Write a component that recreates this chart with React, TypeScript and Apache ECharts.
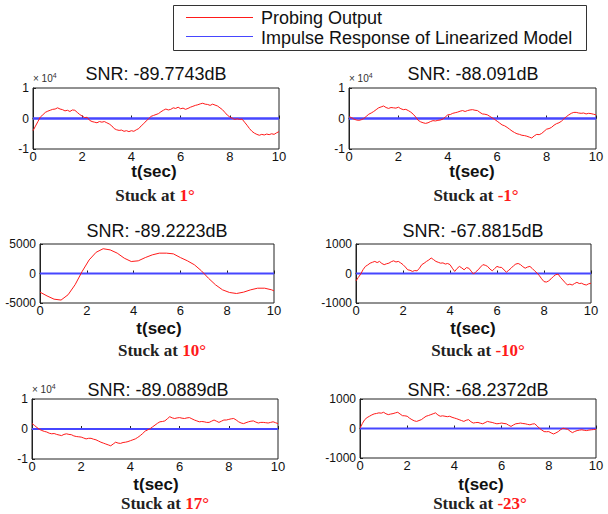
import React, { useEffect, useRef } from "react";
import * as echarts from "echarts";

// time grids (seconds)
const t01 = [
  0, 0.1, 0.2, 0.3, 0.4, 0.5, 0.6, 0.7, 0.8, 0.9,
  1.0, 1.1, 1.2, 1.3, 1.4, 1.5, 1.6, 1.7, 1.8, 1.9,
  2.0, 2.1, 2.2, 2.3, 2.4, 2.5, 2.6, 2.7, 2.8, 2.9,
  3.0, 3.1, 3.2, 3.3, 3.4, 3.5, 3.6, 3.7, 3.8, 3.9,
  4.0, 4.1, 4.2, 4.3, 4.4, 4.5, 4.6, 4.7, 4.8, 4.9,
  5.0, 5.1, 5.2, 5.3, 5.4, 5.5, 5.6, 5.7, 5.8, 5.9,
  6.0, 6.1, 6.2, 6.3, 6.4, 6.5, 6.6, 6.7, 6.8, 6.9,
  7.0, 7.1, 7.2, 7.3, 7.4, 7.5, 7.6, 7.7, 7.8, 7.9,
  8.0, 8.1, 8.2, 8.3, 8.4, 8.5, 8.6, 8.7, 8.8, 8.9,
  9.0, 9.1, 9.2, 9.3, 9.4, 9.5, 9.6, 9.7, 9.8, 9.9,
  10.0,
];
const t03 = [0, 0.3, 0.6, 0.9, 1.2, 1.5, 1.8, 2.1, 2.4, 2.7, 3.0, 3.3, 3.6, 3.9, 4.2, 4.5, 4.8, 5.1, 5.4, 5.7, 6.0, 6.3, 6.6, 6.9, 7.2, 7.5, 7.8, 8.1, 8.4, 8.7, 9.0, 9.3, 9.6, 9.9, 10.0];

// Probing outputs (plots 1, 2, 5 in units of 10^4)
const probe1 = [
  -0.40, -0.25, -0.10, 0.05, 0.12, 0.20, 0.24, 0.27, 0.30, 0.31,
  0.35, 0.31, 0.29, 0.25, 0.27, 0.23, 0.28, 0.27, 0.20, 0.13,
  0.08, 0.03, 0.04, -0.06, -0.10, -0.12, -0.14, -0.10, -0.12, -0.10,
  -0.14, -0.18, -0.24, -0.33, -0.37, -0.39, -0.38, -0.42, -0.40, -0.43,
  -0.40, -0.42, -0.37, -0.33, -0.24, -0.17, -0.08, -0.01, 0.07, 0.10,
  0.13, 0.16, 0.22, 0.27, 0.31, 0.28, 0.30, 0.35, 0.33, 0.37,
  0.32, 0.34, 0.30, 0.33, 0.37, 0.40, 0.43, 0.45, 0.48, 0.50,
  0.47, 0.46, 0.43, 0.47, 0.44, 0.41, 0.35, 0.29, 0.20, 0.11,
  0.05, 0.01, -0.03, -0.01, -0.03, -0.02, -0.12, -0.22, -0.33, -0.42,
  -0.48, -0.52, -0.55, -0.52, -0.54, -0.51, -0.53, -0.50, -0.52, -0.47,
  -0.43,
];
const probe2 = [
  0.06, 0.03, -0.02, -0.05, -0.06, -0.04, 0.00, 0.07, 0.14, 0.18,
  0.23, 0.29, 0.35, 0.38, 0.41, 0.36, 0.33, 0.36, 0.35, 0.34,
  0.37, 0.32, 0.29, 0.30, 0.26, 0.21, 0.14, 0.05, -0.06, -0.11,
  -0.14, -0.16, -0.14, -0.10, -0.07, -0.08, -0.06, -0.05, -0.02, 0.05,
  0.12, 0.13, 0.17, 0.19, 0.21, 0.24, 0.26, 0.23, 0.26, 0.28,
  0.29, 0.27, 0.26, 0.20, 0.15, 0.14, 0.12, 0.07, 0.02, -0.03,
  -0.09, -0.15, -0.21, -0.24, -0.29, -0.35, -0.41, -0.46, -0.50, -0.52,
  -0.55, -0.56, -0.58, -0.61, -0.64, -0.57, -0.52, -0.53, -0.49, -0.42,
  -0.35, -0.33, -0.29, -0.22, -0.17, -0.14, -0.09, -0.01, 0.06, 0.12,
  0.17, 0.20, 0.20, 0.18, 0.17, 0.18, 0.15, 0.17, 0.16, 0.14,
  0.12,
];
const probe3 = [-3160, -3800, -4350, -4500, -3600, -1900, 340, 2300, 3600, 4200, 4000, 3450, 2600, 2030, 2150, 2700, 3160, 3450, 3450, 3330, 2700, 2150, 1470, 450, -800, -1920, -2770, -3220, -3390, -3160, -2770, -2490, -2490, -2770, -2940];
const probe4 = [
  -250, -130, -20, 130, 240, 290, 350, 380, 410, 370,
  410, 340, 300, 330, 350, 400, 430, 390, 410, 360,
  300, 220, 125, 110, 70, 100, 90, 180, 300, 350,
  410, 460, 525, 470, 410, 380, 350, 360, 320, 340,
  300, 180, 70, 170, 240, 190, 125, 200, 180, 80,
  -20, 60, 125, 220, 300, 280, 240, 150, 90, 170,
  240, 210, 205, 120, 45, 110, 180, 260, 320, 340,
  300, 230, 180, 220, 240, 170, 90, 20, -70, -180,
  -275, -290, -250, -180, -100, -40, -20, -130, -220, -310,
  -390, -360, -390, -340, -300, -340, -330, -370, -390, -350,
  -330,
];
const probe5 = [
  0.18, 0.12, 0.05, -0.01, -0.05, -0.08, -0.10, -0.14, -0.16, -0.15,
  -0.18, -0.20, -0.22, -0.18, -0.16, -0.18, -0.19, -0.23, -0.25, -0.26,
  -0.27, -0.30, -0.33, -0.31, -0.31, -0.34, -0.36, -0.40, -0.44, -0.47,
  -0.50, -0.53, -0.56, -0.50, -0.44, -0.47, -0.48, -0.45, -0.44, -0.42,
  -0.39, -0.36, -0.33, -0.28, -0.22, -0.15, -0.07, -0.03, 0.01, 0.07,
  0.13, 0.19, 0.24, 0.25, 0.27, 0.34, 0.41, 0.37, 0.35, 0.37,
  0.38, 0.36, 0.35, 0.37, 0.38, 0.34, 0.30, 0.27, 0.24, 0.25,
  0.24, 0.22, 0.22, 0.26, 0.30, 0.26, 0.22, 0.26, 0.30, 0.30,
  0.32, 0.34, 0.35, 0.30, 0.24, 0.20, 0.18, 0.21, 0.24, 0.26,
  0.27, 0.23, 0.20, 0.22, 0.22, 0.21, 0.20, 0.22, 0.24, 0.21,
  0.18,
];
const probe6 = [
  10, 170, 300, 370, 415, 460, 495, 510, 530, 520,
  550, 500, 470, 490, 505, 530, 550, 490, 435, 430,
  415, 350, 300, 260, 240, 270, 300, 360, 415, 440,
  470, 500, 530, 460, 415, 430, 415, 400, 415, 380,
  355, 330, 300, 270, 240, 280, 300, 230, 185, 200,
  205, 180, 160, 200, 240, 220, 205, 180, 160, 170,
  185, 170, 160, 110, 70, 120, 160, 170, 185, 170,
  160, 140, 125, 150, 160, 90, 10, -50, -105, -110,
  -105, -150, -185, -150, -105, -40, 10, -10, -25, -90,
  -140, -100, -70, -55, -45, -60, -70, -55, -45, -35,
  -25,
];

// Impulse response of linearized model (flat at zero)
const impulseT = [0, 10];
const impulseV = [0, 0];

const snrTitles = ["SNR: -89.7743dB", "SNR: -88.091dB", "SNR: -89.2223dB", "SNR: -67.8815dB", "SNR: -89.0889dB", "SNR: -68.2372dB"];
const stuckAngles = ["1", "-1", "10", "-10", "17", "-23"];

const panels = [
  { t: t01, v: probe1, ymin: -1, ymax: 1, yint: 1, sci: true, grid: { left: 33, top: 88, width: 246, height: 61 }, titleX: 156, titleY: 74, tX: 154, tY: 170, sX: 155, sY: 195, blueW: 2.5 },
  { t: t01, v: probe2, ymin: -1, ymax: 1, yint: 1, sci: true, grid: { left: 349, top: 88, width: 247, height: 61 }, titleX: 473, titleY: 74, tX: 472, tY: 170, sX: 476, sY: 195, blueW: 2.5 },
  { t: t03, v: probe3, ymin: -5000, ymax: 5000, yint: 5000, sci: false, grid: { left: 40, top: 244, width: 234, height: 59 }, titleX: 157, titleY: 231, tX: 159, tY: 327, sX: 162, sY: 350, blueW: 1.8 },
  { t: t01, v: probe4, ymin: -1000, ymax: 1000, yint: 1000, sci: false, grid: { left: 356, top: 244, width: 235, height: 59 }, titleX: 473, titleY: 231, tX: 473, tY: 327, sX: 478, sY: 350, blueW: 1.8 },
  { t: t01, v: probe5, ymin: -1, ymax: 1, yint: 1, sci: true, grid: { left: 32, top: 399, width: 246, height: 60 }, titleX: 158, titleY: 390, tX: 156, tY: 483, sX: 165, sY: 503, blueW: 1.8 },
  { t: t01, v: probe6, ymin: -1000, ymax: 1000, yint: 1000, sci: false, grid: { left: 360, top: 399, width: 236, height: 59 }, titleX: 478, titleY: 390, tX: 481, tY: 483, sX: 480, sY: 503, blueW: 1.8 },
];

export default function App() {
  const ref = useRef<HTMLDivElement>(null);
  useEffect(() => {
    document.body.style.margin = "0";
    const chart = echarts.init(ref.current!, null, { renderer: "svg" });
    const grids: any[] = [];
    const xAxes: any[] = [];
    const yAxes: any[] = [];
    const series: any[] = [];
    const graphics: any[] = [];
    const sans = "Liberation Sans, Arial, sans-serif";
    const serif = "Liberation Serif, Times New Roman, serif";
    const red = "#ff1a1a";
    const blue = "#4646ff";

    panels.forEach((p, i) => {
      grids.push({ ...p.grid, show: true, borderColor: "#222", borderWidth: 1, backgroundColor: "#fff", containLabel: false });
      xAxes.push({
        type: "value", gridIndex: i, min: 0, max: 10, interval: 2,
        axisLine: { show: true, lineStyle: { color: "#222", width: 1 } },
        axisTick: { show: true, inside: true, length: 3, lineStyle: { color: "#222" } },
        axisLabel: { show: true, fontFamily: sans, fontSize: 13, color: "#111", margin: 1, formatter: (v: number) => String(v) },
        splitLine: { show: false },
      });
      yAxes.push({
        type: "value", gridIndex: i, min: p.ymin, max: p.ymax, interval: p.yint,
        axisLine: { show: true, lineStyle: { color: "#222", width: 1 } },
        axisTick: { show: true, inside: true, length: 3, lineStyle: { color: "#222" } },
        axisLabel: { show: true, fontFamily: sans, fontSize: 12, color: "#111", margin: 4, formatter: (v: number) => String(v) },
        splitLine: { show: false },
      });
      series.push({
        type: "line", xAxisIndex: i, yAxisIndex: i, showSymbol: false, symbol: "none",
        data: impulseT.map((tt, k) => [tt, impulseV[k]]),
        lineStyle: { color: blue, width: p.blueW }, silent: true, z: 2,
      });
      series.push({
        type: "line", xAxisIndex: i, yAxisIndex: i, showSymbol: false, symbol: "none",
        data: p.t.map((tt, k) => [tt, p.v[k]]),
        lineStyle: { color: red, width: 1 }, silent: true, z: 3,
      });
      graphics.push({
        type: "text", x: p.titleX, y: p.titleY,
        style: { text: snrTitles[i], fontFamily: sans, fontSize: 18, fill: "#111", align: "center", verticalAlign: "middle" },
      });
      graphics.push({
        type: "text", x: p.tX, y: p.tY + 1,
        style: { text: "t(sec)", fontFamily: sans, fontSize: 17, fontWeight: "bold", fill: "#111", align: "center", verticalAlign: "middle" },
      });
      graphics.push({
        type: "text", x: p.sX, y: p.sY,
        style: {
          text: "{a|Stuck at }{b|" + stuckAngles[i] + "°}",
          align: "center", verticalAlign: "middle",
          rich: {
            a: { fontFamily: serif, fontSize: 17, fontWeight: "bold", fill: "#222", color: "#222" },
            b: { fontFamily: serif, fontSize: 17, fontWeight: "bold", fill: red, color: red },
          },
        },
      });
      if (p.sci) {
        graphics.push({
          type: "text", x: p.grid.left, y: p.grid.top - 10,
          style: {
            text: "{a|× 10}{b|4}", align: "left", verticalAlign: "middle",
            rich: {
              a: { fontFamily: sans, fontSize: 10, fill: "#333", color: "#333" },
              b: { fontFamily: sans, fontSize: 7, fill: "#333", color: "#333", verticalAlign: "top", padding: [0, 0, 6, 0] },
            },
          },
        });
      }
    });

    // legend box
    graphics.push({ type: "rect", shape: { x: 173.5, y: 5.5, width: 413, height: 45 }, style: { fill: "#fff", stroke: "#333", lineWidth: 1 }, z: 10 });
    graphics.push({ type: "line", shape: { x1: 186, y1: 17.5, x2: 253, y2: 17.5 }, style: { stroke: red, lineWidth: 1 }, z: 11 });
    graphics.push({ type: "line", shape: { x1: 186, y1: 36.5, x2: 253, y2: 36.5 }, style: { stroke: blue, lineWidth: 1 }, z: 11 });
    graphics.push({ type: "text", x: 261, y: 18, z: 11, style: { text: "Probing Output", fontFamily: sans, fontSize: 18, fill: "#111", verticalAlign: "middle" } });
    graphics.push({ type: "text", x: 261, y: 38, z: 11, style: { text: "Impulse Response of Linearized Model", fontFamily: sans, fontSize: 18, fill: "#111", verticalAlign: "middle" } });

    chart.setOption({
      animation: false,
      backgroundColor: "#fff",
      grid: grids,
      xAxis: xAxes,
      yAxis: yAxes,
      series,
      graphic: graphics,
    });
    return () => chart.dispose();
  }, []);
  return <div ref={ref} style={{ position: "absolute", left: 0, top: 0, width: 608, height: 514 }} />;
}
